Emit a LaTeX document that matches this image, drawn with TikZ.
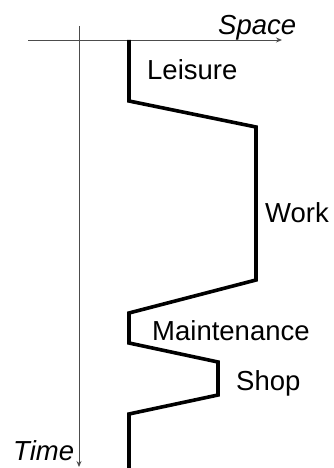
\documentclass[tikz,border=0pt]{standalone}
\usepackage{fontspec}
\setmainfont{Liberation Sans}
\usepackage{tikz}
\usetikzlibrary{arrows.meta}

\tikzset{
  axis/.style={draw=black!70, line width=0.9pt, -{Stealth[length=6pt,width=5pt]}},
  track/.style={line width=3.6pt, line join=miter, black},
  act/.style={anchor=base west, font=\fontsize{27.5}{30}\selectfont, inner sep=0pt},
}

\begin{document}
\begin{tikzpicture}[x=1pt,y=-1pt]
  \useasboundingbox (0,0) rectangle (333,468);

 % axes
 \coordinate (xs) at (28,40);
 \coordinate (xe) at (282,40);
 \coordinate (ts) at (79,26);
 \coordinate (te) at (79,467);
 \draw[axis] (xs) -- (xe);
 \draw[axis] (ts) -- (te);

 % corners of the daily path
 \coordinate (p0) at (129,40);
 \coordinate (p1) at (129,101);
 \coordinate (p2) at (256,127);
 \coordinate (p3) at (256,280);
 \coordinate (p4) at (129,313);
 \coordinate (p5) at (129,343);
 \coordinate (p6) at (218,362);
 \coordinate (p7) at (218,395);
 \coordinate (p8) at (129,414);
 \coordinate (p9) at (129,470);
 \draw[track] (p0) -- (p1) -- (p2) -- (p3) -- (p4) -- (p5) -- (p6) -- (p7) -- (p8) -- (p9);

 \node[act] (space) at (218,35) {\itshape Space};
 \node[act] (time) at (13,460) {\itshape Time};

 \node[act] (leisure) at (147,80) {Leisure};
 \node[act] (work) at (265,222) {Work};
 \node[act] (maint) at (152,340) {Maintenance};
 \node[act] (shop) at (236,390) {Shop};

\end{tikzpicture}
\end{document}
